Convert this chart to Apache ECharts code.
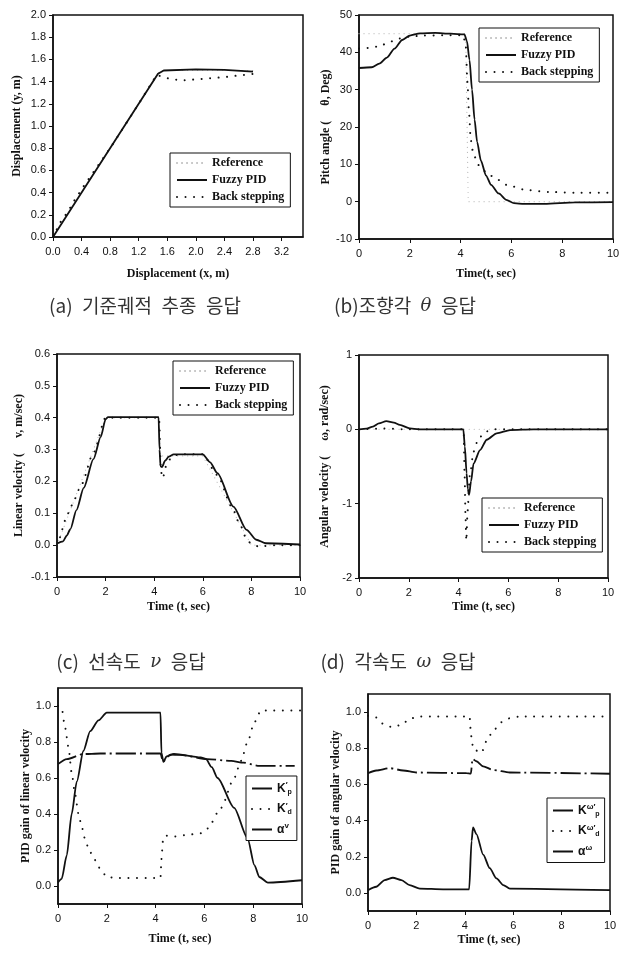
<!DOCTYPE html>
<html><head><meta charset="utf-8">
<script src="https://cdn.jsdelivr.net/npm/echarts@6/dist/echarts.min.js"></script>
<style>html,body{margin:0;padding:0;background:#fff}#c{width:625px;height:953px}</style>
</head><body><div id="c"></div>
<script>
// ---- Data ----
// (a) trajectory
var aRef = [[0,0],[1.5,1.5],[2.8,1.5]];
var aFuzzy = [[0,0],[1.47,1.47],[1.55,1.5],[2.0,1.51],[2.4,1.505],[2.8,1.49]];
var aBack = [[0,0],[0.1,0.13],[0.2,0.22],[0.3,0.33],[0.4,0.43],[0.8,0.8],[1.2,1.2],[1.45,1.46],[1.6,1.43],[1.8,1.41],[2.0,1.42],[2.4,1.44],[2.8,1.47]];
// (b) pitch angle
var bRef = [[0,45],[4.2,45],[4.3,0],[10,0]];
var bFuzzy = [[0,35.8],[0.5,36],[0.8,37],[1.1,38.6],[1.4,41],[1.7,43.3],[2.0,44.5],[2.4,45.1],[3.0,45.2],[3.6,45],[4.15,44.8],[4.25,43],[4.35,38],[4.45,30],[4.55,22],[4.65,16],[4.8,11],[5.0,7],[5.2,4.5],[5.5,2.2],[5.8,0.5],[6.1,-0.4],[6.5,-0.6],[7.3,-0.6],[8.5,-0.2],[10,-0.1]];
var bBack = [[0,41],[0.4,41.2],[0.8,41.6],[1.2,42.8],[1.6,43.7],[2.0,44.2],[2.5,44.5],[3.5,44.6],[4.1,44.6],[4.2,42],[4.27,32],[4.33,24],[4.4,16.5],[4.5,12.8],[4.7,9.8],[5.0,8],[5.3,6.6],[5.8,4.5],[6.6,3.1],[7.5,2.6],[8.5,2.4],[10,2.4]];
// (c) linear velocity
var cRef = [[0,0],[2,0.4],[4.2,0.4],[4.25,0.28],[6,0.28],[8,0],[10,0]];
var cFuzzy = [[0,0.005],[0.25,0.012],[0.4,0.03],[0.55,0.05],[0.8,0.11],[1.1,0.18],[1.5,0.27],[1.8,0.34],[2.0,0.395],[2.1,0.402],[4.18,0.402],[4.22,0.3],[4.26,0.247],[4.32,0.245],[4.45,0.265],[4.6,0.278],[4.8,0.285],[6.0,0.285],[6.3,0.26],[6.6,0.226],[7.26,0.121],[7.8,0.048],[8.2,0.017],[8.6,0.006],[10,0.002]];
var cBack = [[0,0],[0.1,0.02],[0.2,0.048],[0.35,0.08],[0.5,0.105],[0.7,0.142],[1.0,0.19],[1.5,0.29],[2.0,0.4],[4.2,0.4],[4.28,0.23],[4.35,0.21],[4.5,0.25],[4.7,0.275],[5.0,0.285],[6.0,0.285],[6.6,0.22],[7.2,0.12],[7.5,0.07],[7.8,0.02],[8.0,0.003],[8.3,-0.004],[9,0],[10,0]];
// (d) angular velocity
var dRef = [[0,0],[10,0]];
var dFuzzy = [[0,0],[0.3,0.01],[0.56,0.036],[0.8,0.08],[1.1,0.11],[1.4,0.09],[1.64,0.06],[2.04,0.013],[2.4,0],[4.19,0],[4.25,-0.23],[4.32,-0.59],[4.37,-0.8],[4.42,-0.88],[4.5,-0.7],[4.6,-0.46],[4.86,-0.28],[5.13,-0.14],[5.53,-0.054],[6.07,-0.01],[7,0],[10,0]];
var dBack = [[0,0],[1,0.01],[2,0],[4.2,0],[4.24,-0.6],[4.28,-1.2],[4.31,-1.5],[4.36,-1.1],[4.45,-0.62],[4.6,-0.3],[4.8,-0.12],[5.1,-0.03],[5.4,0],[10,0]];
// (e) PID gains, linear velocity
var eKp = [[0,0.02],[0.15,0.04],[0.36,0.17],[0.56,0.4],[0.77,0.58],[1.04,0.75],[1.32,0.86],[1.66,0.92],[2.0,0.963],[4.2,0.963],[4.24,0.74],[4.32,0.69],[4.45,0.72],[4.75,0.734],[5.85,0.714],[6.06,0.706],[6.3,0.66],[6.54,0.6],[7.22,0.434],[7.77,0.265],[8.05,0.116],[8.25,0.05],[8.6,0.019],[10,0.032]];
var eKd = [[0,1.0],[0.15,0.99],[0.29,0.88],[0.43,0.77],[0.56,0.63],[0.7,0.51],[0.84,0.4],[0.97,0.33],[1.1,0.265],[1.25,0.21],[1.46,0.153],[1.73,0.097],[2.0,0.05],[2.4,0.045],[4.2,0.045],[4.24,0.15],[4.3,0.25],[4.4,0.28],[4.75,0.275],[5.3,0.284],[5.85,0.293],[6.13,0.32],[6.68,0.434],[7.22,0.6],[7.5,0.695],[7.77,0.8],[8.05,0.91],[8.32,0.975],[10,0.975]];
var eAlpha = [[0,0.677],[0.36,0.705],[1.04,0.733],[1.73,0.736],[4.2,0.736],[4.3,0.69],[4.6,0.73],[5.0,0.728],[6.13,0.705],[7.1,0.695],[7.6,0.685],[8.25,0.667],[9.7,0.667]];
// (f) PID gains, angular velocity
var fKp = [[0,0.015],[0.34,0.034],[0.69,0.071],[1.03,0.084],[1.38,0.071],[1.72,0.043],[2.14,0.024],[3.1,0.02],[4.18,0.02],[4.28,0.287],[4.34,0.362],[4.48,0.325],[4.76,0.212],[5.03,0.137],[5.31,0.08],[5.59,0.043],[5.86,0.024],[10,0.015]];
var fKd = [[0,0.98],[0.34,0.97],[0.69,0.928],[1.03,0.916],[1.38,0.93],[1.72,0.962],[2.07,0.976],[4.2,0.976],[4.24,0.906],[4.28,0.854],[4.35,0.794],[4.69,0.775],[4.9,0.84],[5.17,0.897],[5.52,0.944],[5.86,0.966],[6.28,0.976],[10,0.976]];
var fAlpha = [[0,0.662],[0.34,0.677],[0.9,0.69],[1.45,0.677],[2.0,0.666],[4.07,0.662],[4.25,0.66],[4.32,0.741],[4.48,0.728],[4.76,0.7],[5.17,0.68],[5.86,0.666],[10,0.659]];
// tick labels
var aTicksX = [0,0.4,0.8,1.2,1.6,2.0,2.4,2.8,3.2];
var gainTicksY = [0,0.2,0.4,0.6,0.8,1.0];
var captions = ['(a)\u2002기준궤적\u2002추종\u2002응답','(b)조향각\u2002{i|θ}\u2002응답','(c)\u2002선속도\u2002{i|ν}\u2002응답','(d)\u2002각속도\u2002{i|ω}\u2002응답'];

// ---- styles ----
var LBL = {fontFamily:'Liberation Sans', fontSize:11, color:'#111'};
var NAME = {fontFamily:'Liberation Serif', fontWeight:'bold', fontSize:12, color:'#111'};
var solid = {color:'#111', width:1.8, type:'solid'};
var dots = {color:'#111', width:2, type:[0.01,8.5], cap:'round'};
var refS = {color:'#bbb', width:1.2, type:[0.01,5], cap:'round'};
var dashdot = {color:'#111', width:1.8, type:[20,4,2,4], cap:'butt'};

var grids = [
  {left:53, top:15, width:250, height:222},
  {left:359, top:15, width:254, height:224},
  {left:57, top:354, width:243, height:223},
  {left:359, top:355, width:249, height:223},
  {left:58, top:688, width:244, height:216},
  {left:368, top:694, width:242, height:217}
].map(function(g){ g.show=true; g.borderColor='#111'; g.borderWidth=1.5; return g; });

function xAx(i, min, max, interval, name, gap, custom, fmt){
  var a = {type:'value', gridIndex:i, min:min, max:max, interval:interval,
    name:name, nameLocation:'middle', nameGap:gap, nameTextStyle:NAME,
    axisLine:{show:true, onZero:false, lineStyle:{color:'#111', width:1.5}},
    axisTick:{show:true, inside:false, length:4, lineStyle:{color:'#111'}},
    axisLabel:Object.assign({margin:9}, LBL), splitLine:{show:false}};
  if (custom){ a.axisLabel.customValues = custom; a.axisTick.customValues = custom; }
  if (fmt) a.axisLabel.formatter = fmt;
  return a;
}
function yAx(i, min, max, interval, name, gap, custom, fmt){
  var a = xAx(i, min, max, interval, name, gap, custom, fmt);
  a.axisLabel.margin = 7;
  return a;
}
var f1 = function(v){ return v.toFixed(1); };

var xAxes = [
  xAx(0,0,3.5,0.4,'Displacement (x, m)',31,aTicksX,f1),
  xAx(1,0,10,2,'Time(t, sec)',29),
  xAx(2,0,10,2,'Time (t, sec)',24),
  xAx(3,0,10,2,'Time (t, sec)',23),
  xAx(4,0,10,2,'Time (t, sec)',29),
  xAx(5,0,10,2,'Time (t, sec)',23)
];
var yAxes = [
  yAx(0,0,2,0.2,'Displacement (y, m)',30,null,f1),
  yAx(1,-10,50,10,'Pitch angle (     θ, Deg)',26),
  yAx(2,-0.1,0.6,0.1,'Linear velocity (     v, m/sec)',32,null,f1),
  yAx(3,-2,1,1,'Angular velocity (     ω, rad/sec)',28),
  yAx(4,-0.1,1.1,0.1,'PID gain of linear velocity',21,gainTicksY,f1),
  yAx(5,-0.1,1.1,0.1,'PID gain of angular velocity',22,gainTicksY,f1)
];

function ser(name, i, data, ls, smooth){
  return {type:'line', name:name, xAxisIndex:i, yAxisIndex:i, data:data,
    symbol:'none', showSymbol:false, lineStyle:ls, itemStyle:{color:ls.color},
    smooth: smooth ? 0.25 : false, smoothMonotone: smooth ? 'x' : undefined,
    silent:true, animation:false, z: ls===refS ? 1 : 2};
}
var series = [
  ser('Reference',0,aRef,refS,false), ser('Fuzzy PID',0,aFuzzy,solid,false), ser('Back stepping',0,aBack,dots,false),
  ser('Reference',1,bRef,refS,false), ser('Fuzzy PID',1,bFuzzy,solid,true), ser('Back stepping',1,bBack,dots,true),
  ser('Reference',2,cRef,refS,false), ser('Fuzzy PID',2,cFuzzy,solid,true), ser('Back stepping',2,cBack,dots,true),
  ser('Reference',3,dRef,refS,false), ser('Fuzzy PID',3,dFuzzy,solid,true), ser('Back stepping',3,dBack,dots,true),
  ser('eKp',4,eKp,solid,true), ser('eKd',4,eKd,dots,true), ser('eAlpha',4,eAlpha,dashdot,true),
  ser('fKp',5,fKp,solid,true), ser('fKd',5,fKd,dots,true), ser('fAlpha',5,fAlpha,dashdot,true)
];

var legText = {fontFamily:'Liberation Serif', fontWeight:'bold', fontSize:12, color:'#111'};
function leg(left, top, data){
  return {left:left, top:top, orient:'vertical', data:data, selectedMode:false,
    borderColor:'#111', borderWidth:1, backgroundColor:'#fff', padding:[4,6,4,6],
    itemGap:5, itemWidth:30, itemHeight:12, textStyle:legText,
    itemStyle:{opacity:0, borderWidth:0}};
}
var main3 = ['Reference','Fuzzy PID','Back stepping'];
var gainRich = {
  k:{fontFamily:'Liberation Sans', fontWeight:'bold', fontSize:12, color:'#111'},
  sup:{fontFamily:'Liberation Sans', fontWeight:'bold', fontSize:8, color:'#111', padding:[0,0,7,0]},
  sub:{fontFamily:'Liberation Sans', fontWeight:'bold', fontSize:7, color:'#111', padding:[7,0,0,0]}
};
var gainLabels = {
  eKp:'{k|K}{sup|′}{sub|p}', eKd:'{k|K}{sup|′}{sub|d}', eAlpha:'{k|α}{sup|v}',
  fKp:'{k|K}{sup|ω′}{sub|p}', fKd:'{k|K}{sup|ω′}{sub|d}', fAlpha:'{k|α}{sup|ω}'
};
function gleg(left, top, data){
  var l = leg(left, top, data);
  l.itemWidth = 20; l.itemGap = 6; l.padding = [5,5,5,5];
  l.formatter = function(n){ return gainLabels[n]; };
  l.textStyle = {rich:gainRich};
  return l;
}
var legends = [
  leg(170,153,main3), leg(479,28,main3), leg(173,361,main3), leg(482,498,main3),
  gleg(246,776,['eKp','eKd','eAlpha']), gleg(547,798,['fKp','fKd','fAlpha'])
];

var capPos = [[145,306],[405,306],[131,662],[398,662]];
var graphic = captions.map(function(t,i){
  return {type:'text', silent:true, style:{text:t, x:capPos[i][0], y:capPos[i][1],
    textAlign:'center', textVerticalAlign:'middle',
    font:'19px "Noto Sans CJK KR"', fill:'#333',
    rich:{i:{fontStyle:'italic', fontFamily:'DejaVu Serif', fontSize:18, fill:'#333'}}}};
});

var chart = echarts.init(document.getElementById('c'), null, {renderer:'canvas'});
chart.setOption({backgroundColor:'#fff', animation:false, grid:grids, xAxis:xAxes, yAxis:yAxes,
  series:series, legend:legends, graphic:graphic});
</script></body></html>
